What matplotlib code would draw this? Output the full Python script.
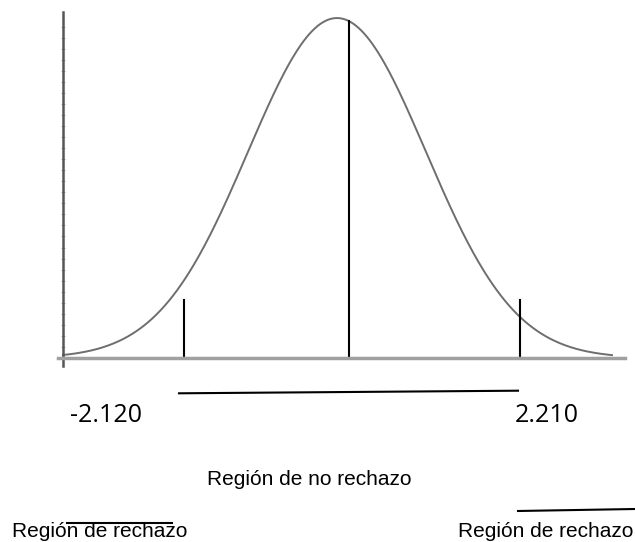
import numpy as np
import matplotlib
matplotlib.use("Agg")
import matplotlib.pyplot as plt
from matplotlib.lines import Line2D

# valores criticos y curva
criticos = [-2.120, 2.210]
etiquetas = ["-2.120", "2.210"]
centro = 0.0
media = -0.155
desv = 1.147
z_ini, z_fin = -3.686, 3.389
alto_marca = 0.059

W, H = 635, 542
fig = plt.figure(figsize=(W / 100, H / 100), dpi=100)

# ejes del grafico (en pixeles de la imagen)
ax = fig.add_axes([58 / W, 1 - 366 / H, (625 - 58) / W, (366 - 12) / H])
ax.set_xlim(-3.75, 3.557)
ax.set_ylim(-0.0082, 0.354)

z = np.linspace(z_ini, z_fin, 400)
f = np.exp(-0.5 * ((z - media) / desv) ** 2) / (desv * np.sqrt(2 * np.pi))
ax.plot(z, f, color="#6e6e6e", lw=1.4)

ax.plot([centro, centro], [0, 0.3445], color="black", lw=1.5)
for c in criticos:
    ax.plot([c, c], [0, alto_marca], color="black", lw=1.5)

for s in ["top", "right"]:
    ax.spines[s].set_visible(False)
ax.spines["left"].set_position(("data", z_ini))
ax.spines["left"].set_color("#555555")
ax.spines["left"].set_linewidth(1.8)
ax.spines["bottom"].set_position(("data", 0))
ax.spines["bottom"].set_color("#a0a0a0")
ax.spines["bottom"].set_linewidth(2.5)
ax.set_xticks(np.arange(-3.72, 3.56, 0.438))
ax.set_yticks(np.arange(0, 0.35, 0.0113))
ax.set_xticklabels([])
ax.set_yticklabels([])
ax.tick_params(axis="x", length=2, width=1, color="#aaaaaa", direction="inout")
ax.tick_params(axis="y", length=3, width=0.7, color="#b0b0b0", direction="inout")

# textos
fig.text(142 / W, 1 - 416 / H, etiquetas[0], ha="right", va="center",
         fontsize=18, family="Open Sans")
fig.text(515 / W, 1 - 416 / H, etiquetas[1], ha="left", va="center",
         fontsize=18, family="Open Sans")
fig.text(207 / W, 1 - 485 / H, "Región de no rechazo", ha="left", va="baseline",
         fontsize=15, family="Liberation Sans")
fig.text(12 / W, 1 - 537 / H, "Región de rechazo", ha="left", va="baseline",
         fontsize=15, family="Liberation Sans")
fig.text(458 / W, 1 - 537 / H, "Región de rechazo", ha="left", va="baseline",
         fontsize=15, family="Liberation Sans")

# lineas sueltas
lineas = [((179, 393.3), (518, 390.7)),
          ((67, 522.5), (172, 522.5)),
          ((518, 511), (635, 509))]
for (x0, y0), (x1, y1) in lineas:
    fig.add_artist(Line2D([x0 / W, x1 / W], [1 - y0 / H, 1 - y1 / H],
                          transform=fig.transFigure, color="black", lw=1.5))

fig.savefig("out.png", dpi=100)
